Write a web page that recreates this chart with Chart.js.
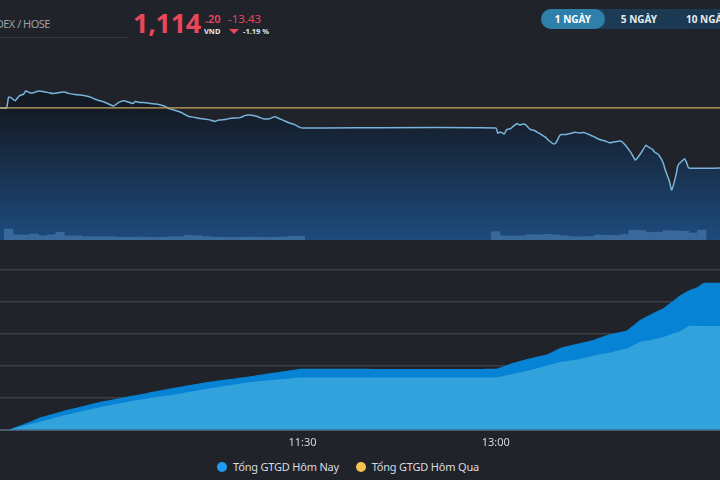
<!DOCTYPE html>
<html>
<head>
<meta charset="utf-8">
<script src="https://cdn.jsdelivr.net/npm/chart.js@4/dist/chart.umd.min.js"></script>
<style>
  html,body{margin:0;padding:0;background:#202329;width:720px;height:480px;overflow:hidden;font-family:"Noto Sans","Open Sans",sans-serif;}
  .abs{position:absolute;white-space:nowrap;}
  #sym{left:0;top:15px;width:50px;height:18px;overflow:hidden;}
  #sym span{position:absolute;right:0;top:0;font-size:11px;letter-spacing:-0.5px;line-height:18px;color:#9ba0a7;}
  #sep{left:0;top:37px;width:128px;height:1px;background:#363940;}
  #price{left:133px;top:5px;font-size:27px;font-weight:700;color:#e9475a;line-height:36px;letter-spacing:-0.3px;}
  #dec{left:205px;top:12px;font-size:11px;font-weight:600;color:#e9475a;line-height:14px;}
  #vnd{left:204px;top:26px;font-size:7.5px;font-weight:700;color:#e8eaed;line-height:10px;}
  #chg{left:228px;top:12px;font-size:11.5px;color:#e9475a;line-height:14px;}
  #tri{left:229px;top:29px;width:0;height:0;border-left:5px solid transparent;border-right:5px solid transparent;border-top:5px solid #e9475a;}
  #pct{left:243px;top:26px;font-size:7.5px;font-weight:700;color:#e8eaed;line-height:10px;}
  #btns{left:541px;top:9px;width:200px;height:20px;border-radius:10px;background:linear-gradient(90deg,#1d3d57,#1a3850);}
  .btn{position:absolute;top:0;height:20px;line-height:20px;font-size:10px;font-weight:700;color:#e6ebef;text-align:center;}
  #b1{left:0;width:64px;border-radius:10px;background:#2e7fa9;color:#fff;}
  #b2{left:66px;width:64px;}
  #b3{left:145px;width:64px;text-align:left;}
  #topWrap{left:0;top:45px;width:720px;height:195px;}
  #botWrap{left:0;top:262px;width:720px;height:193px;}
  #legend{left:0;top:458px;width:696px;height:18px;text-align:center;font-size:11px;letter-spacing:-0.2px;color:#d9dce0;line-height:18px;}
  #legend .it{display:inline-block;margin:0 7px;}
  #legend .dot{display:inline-block;width:10px;height:10px;border-radius:50%;vertical-align:-1px;margin-right:6px;}
</style>
</head>
<body>
<div id="sym" class="abs"><span>VNINDEX / HOSE</span></div>
<div id="sep" class="abs"></div>
<div id="price" class="abs">1,114</div>
<div id="dec" class="abs">.20</div>
<div id="vnd" class="abs">VND</div>
<div id="chg" class="abs">-13.43</div>
<div id="tri" class="abs"></div>
<div id="pct" class="abs">-1.19 %</div>
<div id="btns" class="abs">
  <div id="b1" class="btn">1 NGÀY</div>
  <div id="b2" class="btn">5 NGÀY</div>
  <div id="b3" class="btn">10 NGÀY</div>
</div>
<div id="topWrap" class="abs"><canvas id="top"></canvas></div>
<div id="botWrap" class="abs"><canvas id="bot"></canvas></div>
<div id="legend" class="abs">
  <span class="it"><span class="dot" style="background:#1f9cf0"></span>Tổng GTGD Hôm Nay</span>
  <span class="it"><span class="dot" style="background:#f6c350"></span>Tổng GTGD Hôm Qua</span>
</div>
<script>
// ---------- DATA ----------
const refPrice = 1127.63;   // previous close
const sessionStart = "09:09";
const sessionEnd = "14:45";
const tickTimes = ["11:30", "13:00"];

const priceTimes = ["09:09","09:12","09:13","09:14","09:16","09:18","09:20","09:21","09:23","09:25","09:27","09:30","09:32","09:34","09:37","09:39","09:41","09:44","09:46","09:48","09:51","09:53","09:55","09:58","10:00","10:02","10:04","10:06","10:08","10:11","10:12","10:14","10:16","10:19","10:21","10:23","10:26","10:28","10:30","10:33","10:35","10:37","10:40","10:42","10:44","10:47","10:49","10:51","10:54","10:56","10:58","11:01","11:03","11:05","11:08","11:10","11:12","11:15","11:17","11:19","11:22","11:24","11:26","11:29","11:30","13:00","13:01","13:02","13:03","13:04","13:05","13:07","13:08","13:10","13:11","13:13","13:14","13:16","13:18","13:20","13:23","13:25","13:27","13:28","13:30","13:31","13:33","13:35","13:37","13:39","13:41","13:44","13:46","13:48","13:51","13:53","13:55","13:58","13:59","14:01","14:03","14:05","14:06","14:08","14:10","14:11","14:13","14:14","14:16","14:18","14:19","14:21","14:22","14:24","14:25","14:27","14:28","14:29","14:30","14:45"];
const priceValues = [1127.63,1127.63,1130.02,1129.98,1129.26,1130.32,1130.70,1131.43,1130.99,1131.10,1131.43,1131.21,1130.99,1130.88,1131.10,1131.21,1130.88,1130.65,1130.54,1130.43,1130.09,1129.64,1129.31,1128.86,1128.41,1128.08,1128.75,1129.20,1129.08,1128.64,1129.08,1128.86,1128.86,1128.64,1128.53,1128.41,1127.97,1127.41,1127.18,1126.73,1126.18,1125.73,1125.50,1125.28,1125.17,1124.94,1124.61,1124.94,1125.06,1125.28,1125.39,1125.46,1125.91,1126.06,1125.84,1125.50,1125.17,1125.28,1125.68,1125.28,1124.65,1124.27,1123.94,1123.22,1123.15,1123.15,1121.97,1122.26,1122.04,1121.81,1122.71,1123.04,1123.44,1124.16,1123.83,1124.05,1123.83,1122.86,1122.59,1122.03,1121.14,1120.24,1119.57,1119.80,1121.59,1121.70,1121.70,1121.93,1122.19,1122.04,1122.15,1121.59,1121.14,1120.62,1120.25,1119.86,1120.02,1120.25,1120.02,1118.97,1117.63,1115.99,1116.44,1117.78,1119.28,1118.90,1118.39,1117.78,1117.11,1115.39,1113.75,1111.13,1109.28,1112.63,1114.87,1115.84,1116.28,1115.32,1114.20,1114.20];

const volumeTimes = ["09:13","09:17","09:21","09:25","09:29","09:33","09:37","09:41","09:45","09:49","09:53","09:57","10:01","10:05","10:09","10:13","10:17","10:21","10:25","10:29","10:33","10:37","10:41","10:45","10:49","10:53","10:57","11:01","11:05","11:09","11:13","11:17","11:21","11:25","11:29","13:00","13:04","13:08","13:12","13:16","13:20","13:24","13:28","13:32","13:36","13:40","13:44","13:48","13:52","13:56","14:00","14:04","14:08","14:12","14:16","14:20","14:24","14:28","14:32","14:36"];
const volumeValues = [5.6,2.6,2.6,3.1,2.2,2.7,3.9,2.1,2.1,1.7,1.7,1.7,1.7,1.4,1.4,1.5,1.4,1.3,1.4,1.7,1.7,2.4,2.2,1.8,1.4,1.4,1.3,1.4,1.5,1.4,1.3,1.4,1.5,1.9,1.9,4.3,2.1,2.0,2.1,2.7,2.6,2.9,2.6,2.2,1.7,1.6,1.8,2.6,2.4,2.3,2.8,5.1,4.9,3.9,4.0,4.8,4.7,4.5,3.6,5.1];

const valueTimes = ["09:13","09:23","09:27","09:38","09:55","10:11","10:27","10:45","11:05","11:29","11:30","13:00","13:07","13:14","13:24","13:30","13:38","13:45","13:53","14:01","14:07","14:13","14:18","14:26","14:30","14:34","14:37","14:45"];
const valueToday = [0,0.25,0.37,0.58,0.86,1.07,1.28,1.49,1.67,1.91,1.91,1.91,2.07,2.20,2.36,2.56,2.69,2.80,2.99,3.11,3.43,3.64,3.80,4.21,4.36,4.47,4.60,4.60];
const valueLower = [0,0.18,0.24,0.44,0.70,0.91,1.07,1.28,1.49,1.64,1.64,1.64,1.73,1.83,2.01,2.12,2.20,2.31,2.41,2.54,2.75,2.82,2.90,3.09,3.25,3.25,3.25,3.25];

// ---------- HELPERS ----------
const toMin = s => { const [h,m] = s.split(":").map(Number); return h*60+m; };
const fmt = v => { const h = Math.floor(v/60), m = Math.round(v%60); return h + ":" + String(m).padStart(2,"0"); };
const pts = (ts, vs) => ts.map((t,i) => ({x: toMin(t), y: vs[i]}));
const xMin = toMin(sessionStart), xMax = toMin(sessionEnd) - 0.5;

// ---------- TOP CHART ----------
new Chart(document.getElementById("top"), {
  type: "line",
  data: {
    datasets: [
      { label: "ref", data: [{x:xMin,y:refPrice},{x:xMax+1,y:refPrice}], borderColor: "#c8a75c", borderWidth: 1.3, pointRadius: 0, fill: false },
      { type: "bar", label: "vol", data: pts(volumeTimes, volumeValues), yAxisID: "yv", backgroundColor: "#39689a", barPercentage: 1, categoryPercentage: 1, borderWidth: 0 },
      { label: "price", data: pts(priceTimes, priceValues), borderColor: "#78b4dc", borderWidth: 1.5, pointRadius: 0, tension: 0.2,
        fill: "start",
        backgroundColor: (ctx) => {
          const a = ctx.chart.chartArea; if (!a) return "#15223a";
          const g = ctx.chart.ctx.createLinearGradient(0, a.top, 0, a.bottom);
          g.addColorStop(0, "#0f1216");
          g.addColorStop(0.33, "#141b26");
          g.addColorStop(0.7, "#1a3656");
          g.addColorStop(1, "#1d4b7e");
          return g;
        } }
    ]
  },
  options: {
    responsive: true, maintainAspectRatio: false, animation: false,
    layout: { padding: 0 },
    plugins: { legend: { display: false }, tooltip: { enabled: false } },
    scales: {
      x: { type: "linear", min: xMin, max: xMax, offset: false, display: false },
      y: { min: 1098.1, max: 1141.7, display: false },
      yv: { min: 0, max: 100, display: false }
    }
  }
});

// ---------- BOTTOM CHART ----------
new Chart(document.getElementById("bot"), {
  type: "line",
  data: {
    datasets: [
      { label: "lower", data: pts(valueTimes, valueLower), borderWidth: 0, borderColor: "#32a2dd", backgroundColor: "#32a2dd", pointRadius: 0, fill: "origin", tension: 0.1 },
      { label: "Tổng GTGD Hôm Nay", data: pts(valueTimes, valueToday), borderWidth: 0, borderColor: "#0683d4", backgroundColor: "#0683d4", pointRadius: 0, fill: "origin", tension: 0.1 }
    ]
  },
  options: {
    responsive: true, maintainAspectRatio: false, animation: false,
    layout: { padding: { top: 8, left: 0, right: 0, bottom: 0 } },
    plugins: { legend: { display: false }, tooltip: { enabled: false } },
    scales: {
      x: { type: "linear", min: xMin, max: xMax, offset: false,
           afterBuildTicks: s => { s.ticks = tickTimes.map(t => ({ value: toMin(t) })); },
           ticks: { callback: v => fmt(v), color: "#d4d7db", font: { family: "Noto Sans", size: 11 }, padding: 6, maxRotation: 0, autoSkip: false },
           grid: { display: false, drawTicks: false },
           border: { display: true, color: "#4b5a66", width: 2 } },
      y: { min: 0, max: 5, afterFit: s => { s.width = 0; },
           ticks: { display: false, stepSize: 1 },
           grid: { color: "#3c3f45", lineWidth: 1.5, drawTicks: false },
           border: { display: false } }
    }
  }
});
</script>
</body>
</html>
